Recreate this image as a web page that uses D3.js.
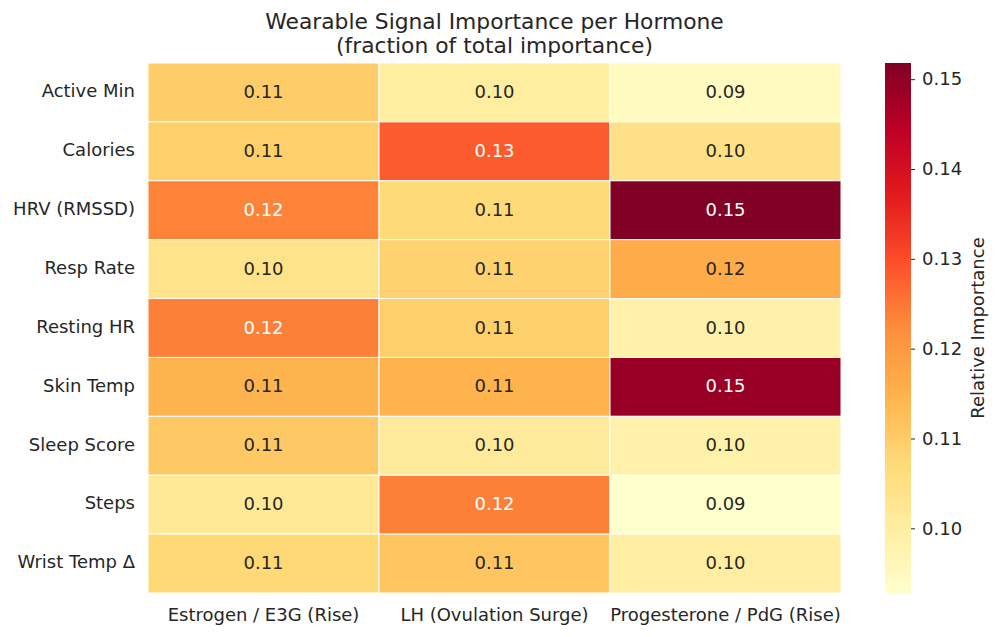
<!DOCTYPE html>
<html><head><meta charset="utf-8">
<script src="https://cdn.jsdelivr.net/npm/d3@7"></script>
<style>body{margin:0;background:#fff}svg{display:block;font-family:"DejaVu Sans",sans-serif}</style>
</head><body>
<svg id="c" width="1001" height="637"></svg>
<script>
const signals = ["Active Min","Calories","HRV (RMSSD)","Resp Rate","Resting HR","Skin Temp","Sleep Score","Steps","Wrist Temp Δ"];
const hormones = ["Estrogen / E3G (Rise)","LH (Ovulation Surge)","Progesterone / PdG (Rise)"];
const estrogen = [0.1098,0.1093,0.1235,0.1040,0.1238,0.1146,0.1106,0.1017,0.1076];
const lh = [0.1002,0.1281,0.1070,0.1087,0.1093,0.1148,0.1011,0.1238,0.1113];
const progesterone = [0.0948,0.1045,0.1518,0.1163,0.0987,0.1489,0.0987,0.0928,0.1000];
const cbTicks = [0.10,0.11,0.12,0.13,0.14,0.15];
const title1 = "Wearable Signal Importance per Hormone";
const title2 = "(fraction of total importance)";
const cbLabel = "Relative Importance";

const series = [estrogen, lh, progesterone];
const cells = [];
signals.forEach((s,i)=>hormones.forEach((h,j)=>cells.push({s,h,v:series[j][i]})));
const all = series.flat();
const vmin = d3.min(all), vmax = d3.max(all);

const brewer = ["#ffffcc","#ffeda0","#fed976","#feb24c","#fd8d3c","#fc4e2a","#e31a1c","#bd0026","#800026"];
const tScale = d3.scaleLinear().domain(d3.range(9).map(i=>i/8)).range(brewer).interpolate(d3.interpolateRgb).clamp(true);
const norm = d3.scaleLinear().domain([vmin,vmax]).range([0,1]);
const color = v => tScale(norm(v));

const svg = d3.select("#c");
const L=148, R=841, T=63, B=593;
const x = d3.scaleBand().domain(hormones).range([L,R]);
const y = d3.scaleBand().domain(signals).range([T,B]);
const ink = "#262626";
const fs = 18;

svg.append("g").selectAll("rect").data(cells).join("rect")
  .attr("x",d=>x(d.h)).attr("y",d=>y(d.s))
  .attr("width",x.bandwidth()).attr("height",y.bandwidth())
  .attr("fill",d=>color(d.v)).attr("stroke","#fff").attr("stroke-width",1);

function lum(c){const r=d3.rgb(c);const f=u=>{u/=255;return u<=0.03928?u/12.92:Math.pow((u+0.055)/1.055,2.4)};return 0.2126*f(r.r)+0.7152*f(r.g)+0.0722*f(r.b);}
svg.append("g").selectAll("text").data(cells).join("text")
  .attr("x",d=>x(d.h)+x.bandwidth()/2).attr("y",d=>y(d.s)+y.bandwidth()/2-1)
  .attr("text-anchor","middle").attr("dominant-baseline","central")
  .attr("font-size",fs).attr("fill",d=>lum(color(d.v))<0.408?"#fff":ink)
  .text(d=>d3.format(".2f")(d.v));

const ya = svg.append("g").attr("transform",`translate(${L},-1)`).call(d3.axisLeft(y).tickSize(0).tickPadding(13));
ya.select(".domain").remove();
ya.selectAll("text").attr("font-size",fs).attr("fill",ink).attr("font-family","DejaVu Sans");
const xa = svg.append("g").attr("transform",`translate(0,${B})`).call(d3.axisBottom(x).tickSize(0).tickPadding(15));
xa.select(".domain").remove();
xa.selectAll("text").attr("font-size",fs).attr("fill",ink).attr("font-family","DejaVu Sans");

const cbX=885, cbW=26;
const cy = d3.scaleLinear().domain([vmin,vmax]).range([B,T]);
const defs = svg.append("defs");
const grad = defs.append("linearGradient").attr("id","g").attr("x1",0).attr("y1",1).attr("x2",0).attr("y2",0);
d3.range(0,1.0001,0.02).forEach(t=>grad.append("stop").attr("offset",t).attr("stop-color",tScale(t)));
svg.append("rect").attr("x",cbX).attr("y",T).attr("width",cbW).attr("height",B-T).attr("fill","url(#g)");
const ca = svg.append("g").attr("transform",`translate(${cbX+cbW},0)`).call(d3.axisRight(cy).tickValues(cbTicks).tickFormat(d3.format(".2f")).tickSize(4).tickPadding(7));
ca.select(".domain").remove();
ca.selectAll("line").attr("stroke",ink);
ca.selectAll("text").attr("font-size",fs).attr("fill",ink).attr("font-family","DejaVu Sans");
svg.append("text").attr("transform",`translate(984,${(T+B)/2}) rotate(-90)`).attr("text-anchor","middle")
  .attr("font-size",fs).attr("fill",ink).text(cbLabel);

svg.append("text").attr("x",(L+R)/2).attr("y",29).attr("text-anchor","middle").attr("font-size",21.8).attr("fill",ink).text(title1);
svg.append("text").attr("x",(L+R)/2).attr("y",53).attr("text-anchor","middle").attr("font-size",21.8).attr("fill",ink).text(title2);
</script>
</body></html>
